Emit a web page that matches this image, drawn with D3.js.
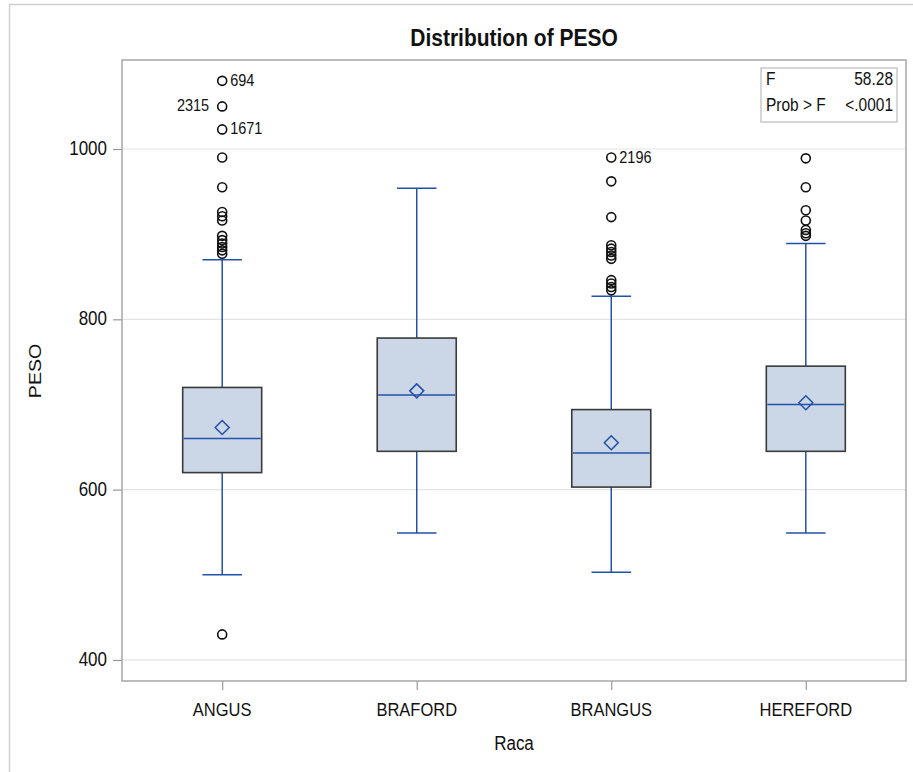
<!DOCTYPE html>
<html>
<head>
<meta charset="utf-8">
<script src="https://cdn.jsdelivr.net/npm/d3@7"></script>
<style>
  body { margin: 0; background: #fff; }
  text { font-family: "Liberation Sans", Arial, sans-serif; fill: #111; }
</style>
</head>
<body>
<div id="chart"></div>
<script>
// Data
const categories = ["ANGUS", "BRAFORD", "BRANGUS", "HEREFORD"];
const q1 = [620, 645, 603, 645];
const median = [660, 711, 643, 700];
const q3 = [720, 778, 694, 745];
const mean = [673, 716, 655, 702];
const whiskerLow = [500, 549, 503, 549];
const whiskerHigh = [870, 954, 827, 889];
const outliers = [
  [1080, 1050, 1023, 990, 955, 926, 921, 916, 898, 893, 889, 885, 881, 877, 430],
  [],
  [990, 962, 920, 887, 883, 879, 875, 871, 846, 842, 838, 834],
  [989, 955, 928, 916, 905, 901, 898]
];
// labelled outliers: [category, value, id, side]
const outlierLabels = [
  ["ANGUS", 1080, "694", "right"],
  ["ANGUS", 1050, "2315", "left"],
  ["ANGUS", 1023, "1671", "right"],
  ["BRANGUS", 990, "2196", "right"]
];
const yTicks = [400, 600, 800, 1000];
const statF = "58.28";
const statP = "<.0001";

const W = 913, H = 772;
const plot = { left: 122, right: 906, top: 60, bottom: 681 };
const textStretch = 1.15;

const svg = d3.select("#chart").append("svg")
  .attr("width", W)
  .attr("height", H);

// outer frame (top and left edges)
svg.append("path")
  .attr("d", "M9.5," + H + "V4.5H" + W)
  .attr("fill", "none")
  .attr("stroke", "#d0d0d0")
  .attr("stroke-width", 1.5);

const x = d3.scalePoint()
  .domain(categories)
  .range([plot.left, plot.right])
  .padding(0.515);

const y = d3.scaleLinear()
  .domain([375.3, 1104.5])
  .range([plot.bottom, plot.top]);

const boxW = 79;

// helper for slightly tall text
function label(g, tx, ty, str, anchor, size, weight) {
  return g.append("text")
    .attr("transform", "translate(" + tx + "," + ty + ") scale(1," + textStretch + ")")
    .attr("text-anchor", anchor || "start")
    .style("font-size", (size || 16) + "px")
    .style("font-weight", weight || "normal")
    .text(str);
}

// gridlines
svg.append("g").selectAll("line")
  .data(yTicks)
  .enter()
  .append("line")
  .attr("x1", plot.left)
  .attr("x2", plot.right)
  .attr("y1", d => y(d))
  .attr("y2", d => y(d))
  .attr("stroke", "#e4e4e4")
  .attr("stroke-width", 1.2);

// axes
const yAxis = svg.append("g")
  .attr("transform", "translate(" + plot.left + ",0)")
  .call(d3.axisLeft(y).tickValues(yTicks).tickSize(9).tickPadding(6));
const xAxis = svg.append("g")
  .attr("transform", "translate(0," + plot.bottom + ")")
  .call(d3.axisBottom(x).tickSize(9).tickPadding(8));

[yAxis, xAxis].forEach(function (a) {
  a.select(".domain").remove();
  a.selectAll(".tick line").attr("stroke", "#999").attr("stroke-width", 1.2);
  a.selectAll(".tick text").remove();
});

yTicks.forEach(function (t) {
  label(svg, plot.left - 15, y(t) + 6, t, "end", 17);
});
categories.forEach(function (c) {
  label(svg, x(c), 716, c, "middle", 16.5);
});

// plot frame
svg.append("rect")
  .attr("x", plot.left)
  .attr("y", plot.top)
  .attr("width", plot.right - plot.left)
  .attr("height", plot.bottom - plot.top)
  .attr("fill", "none")
  .attr("stroke", "#a6a6a6")
  .attr("stroke-width", 1.5);

// titles
label(svg, (plot.left + plot.right) / 2, 46, "Distribution of PESO", "middle", 21, "bold");
label(svg, (plot.left + plot.right) / 2, 750, "Raca", "middle", 17);
svg.append("text")
  .attr("transform", "translate(41," + 371 + ") rotate(-90) scale(" + textStretch + ",1)")
  .attr("text-anchor", "middle")
  .style("font-size", "17px")
  .text("PESO");

const blue = "#2350a8";

// boxes
const boxes = svg.append("g").selectAll("g")
  .data(categories)
  .enter()
  .append("g");

boxes.append("line")
  .attr("x1", d => x(d)).attr("x2", d => x(d))
  .attr("y1", (d, i) => y(whiskerHigh[i]))
  .attr("y2", (d, i) => y(q3[i]))
  .attr("stroke", blue).attr("stroke-width", 1.5);
boxes.append("line")
  .attr("x1", d => x(d)).attr("x2", d => x(d))
  .attr("y1", (d, i) => y(q1[i]))
  .attr("y2", (d, i) => y(whiskerLow[i]))
  .attr("stroke", blue).attr("stroke-width", 1.5);
[whiskerHigh, whiskerLow].forEach(function (arr) {
  boxes.append("line")
    .attr("x1", d => x(d) - boxW / 4).attr("x2", d => x(d) + boxW / 4)
    .attr("y1", (d, i) => y(arr[i]))
    .attr("y2", (d, i) => y(arr[i]))
    .attr("stroke", blue).attr("stroke-width", 1.5);
});

boxes.append("rect")
  .attr("x", d => x(d) - boxW / 2)
  .attr("width", boxW)
  .attr("y", (d, i) => y(q3[i]))
  .attr("height", (d, i) => y(q1[i]) - y(q3[i]))
  .attr("fill", "#cbd6e6")
  .attr("stroke", "#3a3a3a")
  .attr("stroke-width", 1.6);

boxes.append("line")
  .attr("x1", d => x(d) - boxW / 2 + 1).attr("x2", d => x(d) + boxW / 2 - 1)
  .attr("y1", (d, i) => y(median[i]))
  .attr("y2", (d, i) => y(median[i]))
  .attr("stroke", blue).attr("stroke-width", 1.5);

boxes.append("path")
  .attr("d", function (d, i) {
    const cx = x(d), cy = y(mean[i]), r = 7;
    return "M" + cx + "," + (cy - r) + "L" + (cx + r) + "," + cy + "L" + cx + "," + (cy + r) + "L" + (cx - r) + "," + cy + "Z";
  })
  .attr("fill", "none")
  .attr("stroke", blue)
  .attr("stroke-width", 1.5);

// outliers
boxes.each(function (d, i) {
  d3.select(this).selectAll("circle")
    .data(outliers[i])
    .enter()
    .append("circle")
    .attr("cx", x(d))
    .attr("cy", v => y(v))
    .attr("r", 4.5)
    .attr("fill", "none")
    .attr("stroke", "#111")
    .attr("stroke-width", 1.6);
});

outlierLabels.forEach(function (o) {
  const right = o[3] === "right";
  label(svg, x(o[0]) + (right ? 8 : -13), y(o[1]) + 5, o[2], right ? "start" : "end", 14.5);
});

// stats inset
const inset = svg.append("g");
inset.append("rect")
  .attr("x", 761).attr("y", 68)
  .attr("width", 136).attr("height", 54)
  .attr("fill", "#fff")
  .attr("stroke", "#bbb")
  .attr("stroke-width", 1.2);
label(inset, 766, 85, "F", "start", 15.5);
label(inset, 893, 85, statF, "end", 15.5);
label(inset, 766, 111, "Prob > F", "start", 15.5);
label(inset, 893, 111, statP, "end", 15.5);
</script>
</body>
</html>
